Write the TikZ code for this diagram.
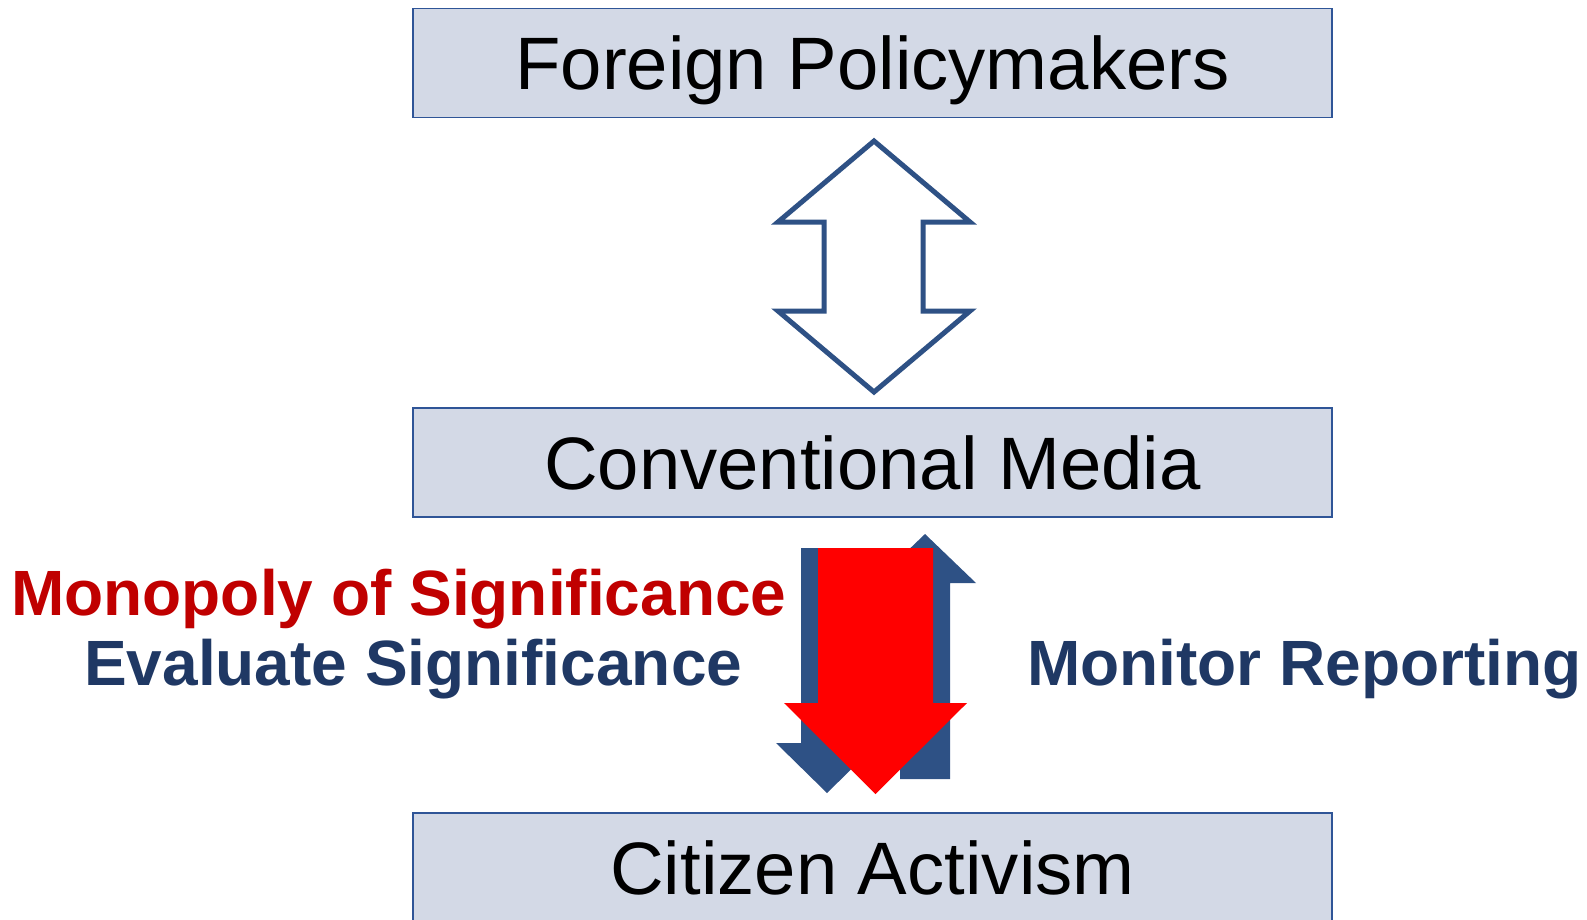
\documentclass[tikz,border=0pt]{standalone}
\usepackage{fontspec}
\setmainfont{Liberation Sans}
\definecolor{boxfill}{HTML}{D3D9E6}
\definecolor{boxline}{HTML}{2F5597}
\definecolor{arrblue}{HTML}{2E5185}
\definecolor{txtblue}{HTML}{1F3864}
\definecolor{txtred}{HTML}{C00000}
\definecolor{arrred}{HTML}{FF0000}
\begin{document}
\begin{tikzpicture}[x=1pt,y=-1pt,
  box/.style={draw=boxline, line width=1.8pt, fill=boxfill, minimum width=919pt, minimum height=109pt,
    inner sep=0pt, text height=53pt, text depth=0pt, font=\fontsize{74.3}{90}\selectfont},
  lbl/.style={font=\fontsize{64}{76}\selectfont\bfseries, anchor=base west, inner sep=0pt},
  hollow/.style={draw=arrblue, line width=5pt, fill=white, line join=miter},
  solidblue/.style={fill=arrblue},
  solidred/.style={fill=arrred}]
\useasboundingbox (0,0) rectangle (1587,919);
\node[box] (fp) at (872.5,63) {Foreign Policymakers};
\node[box] (cm) at (872.5,462.5) {Conventional Media};
\node[box] (ca) at (872.5,867.5) {Citizen Activism};
% double arrow
\draw[hollow] (874,141) -- (970,222) -- (923,222) -- (923,311) -- (970,311) -- (874,392)
  -- (778,311) -- (824,311) -- (824,222) -- (778,222) -- cycle;
% blue down arrow
\fill[solidblue] (801,548) -- (852,548) -- (852,743) -- (878,743) -- (827,793) -- (776,743) -- (801,743) -- cycle;
% blue up arrow
\fill[solidblue] (900,779) -- (950,779) -- (950,583) -- (976,583) -- (925,534) -- (874,583) -- (900,583) -- cycle;
% red down arrow
\fill[solidred] (818,548) -- (933,548) -- (933,703) -- (967,703) -- (875.5,794) -- (784,703) -- (818,703) -- cycle;
\node[lbl, text=txtred] (mono) at (11,615) {Monopoly of Significance};
\node[lbl, text=txtblue] (eval) at (84,685) {Evaluate Significance};
\node[lbl, text=txtblue] (moni) at (1027,685) {Monitor Reporting};
\end{tikzpicture}
\end{document}
